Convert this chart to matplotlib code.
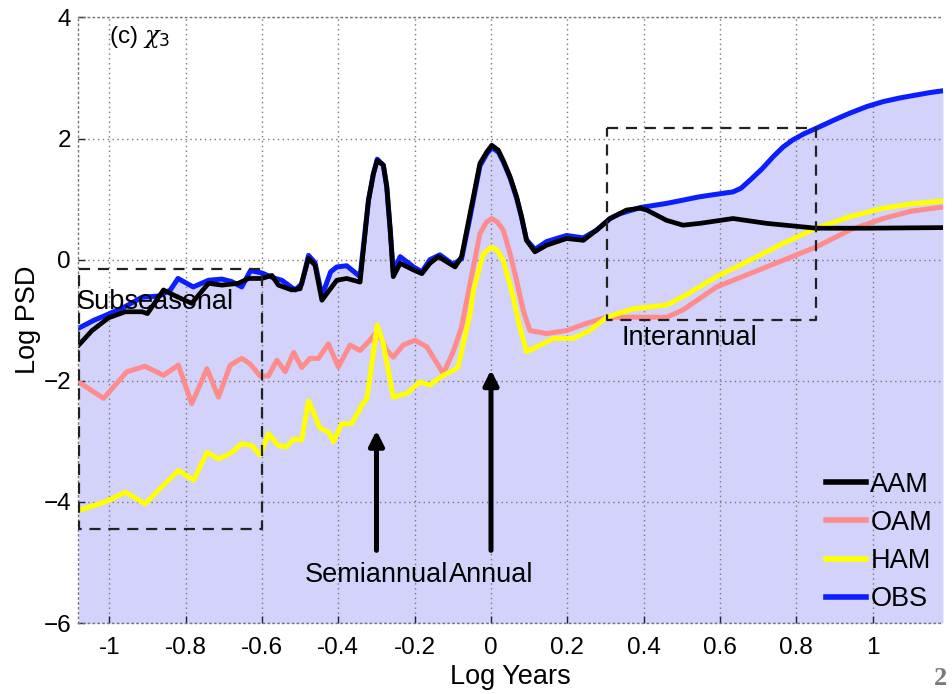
import numpy as np
import matplotlib
matplotlib.use('Agg')
import matplotlib.pyplot as plt
from matplotlib.lines import Line2D

plt.rcParams['font.family'] = ['Liberation Sans', 'DejaVu Sans']
plt.rcParams['mathtext.fontset'] = 'custom'
plt.rcParams['mathtext.it'] = 'DejaVu Serif:italic'

# OBS (blue, filled)
obs_x = [-1.08, -1.04, -1.01, -0.96, -0.914, -0.87, -0.84, -0.82, -0.78, -0.74, -0.705, -0.68,
         -0.653, -0.63, -0.60, -0.57, -0.548, -0.513, -0.496, -0.478, -0.461, -0.443, -0.42,
         -0.404, -0.378, -0.343, -0.321, -0.308, -0.298, -0.282, -0.273, -0.264, -0.256, -0.238,
         -0.203, -0.181, -0.16, -0.134, -0.099, -0.077, -0.055, -0.046, -0.029, -0.011, 0.002,
         0.019, 0.032, 0.05, 0.067, 0.08, 0.093, 0.115, 0.146, 0.198, 0.242, 0.277, 0.312, 0.338,
         0.39, 0.46, 0.5, 0.547, 0.59, 0.634, 0.655, 0.678, 0.71, 0.739, 0.765, 0.791, 0.82, 0.852,
         0.9, 0.94, 0.985, 1.027, 1.07, 1.114, 1.15, 1.184]
obs_y = [-1.13, -1.0, -0.92, -0.78, -0.62, -0.6, -0.5, -0.31, -0.45, -0.34, -0.32, -0.36,
         -0.45, -0.18, -0.22, -0.3, -0.34, -0.5, -0.4, 0.07, -0.05, -0.6, -0.2,
         -0.12, -0.1, -0.28, 0.98, 1.42, 1.66, 1.56, 1.2, 0.49, -0.2, 0.05,
         -0.12, -0.2, 0.0, 0.08, -0.08, 0.02, 0.7, 1.0, 1.55, 1.75, 1.85,
         1.78, 1.62, 1.35, 1.02, 0.7, 0.33, 0.17, 0.3, 0.4, 0.36, 0.49, 0.68, 0.76,
         0.86, 0.93, 0.98, 1.04, 1.08, 1.12, 1.18, 1.31, 1.5, 1.70, 1.86, 1.98, 2.08, 2.17,
         2.31, 2.42, 2.53, 2.61, 2.67, 2.72, 2.76, 2.79]

# AAM (black)
aam_x = [-1.08, -1.045, -1.002, -0.958, -0.914, -0.9, -0.858, -0.823, -0.784, -0.74, -0.705,
         -0.662, -0.635, -0.60, -0.574, -0.557, -0.522, -0.5, -0.478, -0.461, -0.443, -0.404,
         -0.378, -0.343, -0.321, -0.308, -0.298, -0.282, -0.273, -0.264, -0.256, -0.238, -0.203,
         -0.181, -0.16, -0.138, -0.094, -0.077, -0.055, -0.046, -0.029, -0.011, 0.002, 0.019,
         0.032, 0.05, 0.067, 0.08, 0.093, 0.115, 0.146, 0.198, 0.242, 0.277, 0.312, 0.355, 0.39,
         0.408, 0.46, 0.503, 0.547, 0.634, 0.722, 0.852, 0.983, 1.184]
aam_y = [-1.41, -1.17, -0.96, -0.86, -0.86, -0.89, -0.5, -0.61, -0.72, -0.39, -0.42,
         -0.39, -0.31, -0.31, -0.26, -0.42, -0.5, -0.48, 0.02, -0.09, -0.67, -0.34,
         -0.31, -0.37, 0.98, 1.42, 1.64, 1.56, 1.2, 0.49, -0.28, -0.06, -0.17,
         -0.23, -0.06, 0.05, -0.12, 0.05, 0.76, 1.04, 1.59, 1.78, 1.89, 1.81,
         1.64, 1.37, 1.04, 0.71, 0.32, 0.13, 0.24, 0.35, 0.32, 0.49, 0.68, 0.82, 0.85,
         0.82, 0.65, 0.57, 0.60, 0.68, 0.60, 0.52, 0.52, 0.53]

# OAM (pink)
oam_x = [-1.08, -1.015, -0.954, -0.906, -0.858, -0.819, -0.784, -0.744, -0.714, -0.683, -0.653,
         -0.631, -0.605, -0.583, -0.561, -0.539, -0.517, -0.496, -0.474, -0.452, -0.426, -0.4,
         -0.369, -0.343, -0.317, -0.298, -0.273, -0.256, -0.23, -0.199, -0.168, -0.125, -0.099,
         -0.077, -0.055, -0.029, -0.012, 0.002, 0.017, 0.032, 0.05, 0.067, 0.085, 0.102, 0.146,
         0.198, 0.251, 0.303, 0.373, 0.46, 0.503, 0.591, 0.678, 0.765, 0.852, 0.94, 1.027, 1.1,
         1.184]
oam_y = [-2.02, -2.29, -1.85, -1.76, -1.91, -1.74, -2.38, -1.80, -2.27, -1.74, -1.63,
         -1.72, -1.92, -1.92, -1.66, -1.85, -1.53, -1.78, -1.63, -1.63, -1.39, -1.77,
         -1.41, -1.5, -1.33, -1.17, -1.5, -1.61, -1.41, -1.33, -1.44, -1.88, -1.52,
         -1.11, -0.4, 0.43, 0.62, 0.68, 0.62, 0.49, 0.1, -0.34, -0.85, -1.17, -1.22,
         -1.17, -1.05, -0.95, -0.95, -0.95, -0.83, -0.45, -0.23, -0.01, 0.21, 0.49, 0.68, 0.8,
         0.87]

# HAM (yellow)
ham_x = [-1.08, -1.01, -0.958, -0.906, -0.862, -0.819, -0.779, -0.744, -0.714, -0.683, -0.653,
         -0.626, -0.605, -0.583, -0.557, -0.535, -0.517, -0.496, -0.478, -0.448, -0.425, -0.413,
         -0.391, -0.365, -0.338, -0.325, -0.318, -0.298, -0.282, -0.256, -0.221, -0.186, -0.16,
         -0.125, -0.099, -0.086, -0.073, -0.055, -0.046, -0.02, 0.002, 0.017, 0.032, 0.058,
         0.075, 0.093, 0.12, 0.163, 0.215, 0.259, 0.303, 0.373, 0.46, 0.503, 0.591, 0.678,
         0.765, 0.852, 0.94, 1.027, 1.1, 1.184]
ham_y = [-4.14, -4.0, -3.84, -4.03, -3.75, -3.48, -3.64, -3.18, -3.29, -3.2, -3.04,
         -3.07, -3.23, -2.87, -3.07, -3.09, -2.96, -2.98, -2.33, -2.78, -2.85, -3.01,
         -2.71, -2.71, -2.4, -2.29, -1.99, -1.08, -1.39, -2.27, -2.21, -2.02, -2.07,
         -1.91, -1.83, -1.77, -1.39, -0.9, -0.5, 0.1, 0.21, 0.15, -0.01, -0.61,
         -1.1, -1.52, -1.44, -1.30, -1.30, -1.17, -0.95, -0.81, -0.75, -0.61, -0.28, -0.01,
         0.27, 0.52, 0.71, 0.85, 0.92, 0.97]

xticks = [-1, -0.8, -0.6, -0.4, -0.2, 0, 0.2, 0.4, 0.6, 0.8, 1]
xticklabels = ['-1', '-0.8', '-0.6', '-0.4', '-0.2', '0', '0.2', '0.4', '0.6', '0.8', '1']
yticks = [-6, -4, -2, 0, 2, 4]

c_aam = 'black'
c_oam = '#ff8c8c'
c_ham = '#ffff00'
c_obs = '#0a1eff'
fs = 17.5      # tick labels
fs_txt = 19.5  # annotations, legend, axis labels

fig = plt.figure(figsize=(9.52, 6.94), dpi=100)
ax = fig.add_axes([0.0819, 0.1023, 0.9086, 0.8725])

ax.fill_between(obs_x, obs_y, -6, color='#d2d2fa', linewidth=0, zorder=1)
ax.plot(obs_x, obs_y, color=c_obs, lw=3.6, zorder=2)
ax.plot(aam_x, aam_y, color=c_aam, lw=3.4, zorder=2.2)
ax.plot(oam_x, oam_y, color=c_oam, lw=3.6, zorder=2.1)
ax.plot(ham_x, ham_y, color=c_ham, lw=3.6, zorder=2.15)

# dashed boxes
box_kw = dict(color='#222222', lw=1.6, ls=(0, (5, 3.5)), zorder=4)
ax.plot([-1.08, -0.6, -0.6, -1.08, -1.08], [-0.16, -0.16, -4.44, -4.44, -0.16], **box_kw)
ax.plot([0.305, 0.852, 0.852, 0.305, 0.305], [2.17, 2.17, -1.0, -1.0, 2.17], **box_kw)

# arrows
arr = dict(arrowstyle='-|>', lw=3.6, color='black', mutation_scale=22, shrinkA=0, shrinkB=0)
ax.annotate('', xy=(-0.3, -2.82), xytext=(-0.3, -4.8), arrowprops=arr, zorder=5)
ax.annotate('', xy=(0.0, -1.82), xytext=(0.0, -4.8), arrowprops=arr, zorder=5)

ax.text(-0.3, -5.2, 'Semiannual', ha='center', va='center', fontsize=fs_txt, zorder=6)
ax.text(0.0, -5.2, 'Annual', ha='center', va='center', fontsize=fs_txt, zorder=6)
ax.text(-1.085, -0.7, 'Subseasonal', ha='left', va='center', fontsize=fs_txt, zorder=6)
ax.text(0.521, -1.29, 'Interannual', ha='center', va='center', fontsize=fs_txt, zorder=6)
ax.text(-1.0, 3.68, r'(c) $\chi_3$', ha='left', va='center', fontsize=fs, zorder=6)

ax.set_xlim(-1.082, 1.184)
ax.set_ylim(-6, 4)
ax.set_xticks(xticks)
ax.set_xticklabels(xticklabels)
ax.set_yticks(yticks)
ax.tick_params(direction='in', length=5, width=1, color='#202040', labelsize=fs,
               top=False, right=False)
ax.tick_params(axis='x', pad=10)
ax.tick_params(axis='y', pad=5)
ax.grid(True, color='#777777', ls=(0, (1, 2.5)), lw=1)
for side in ['left', 'bottom', 'top']:
    ax.spines[side].set_linestyle((0, (1, 2.5)))
    ax.spines[side].set_color('#777777')
    ax.spines[side].set_linewidth(1)
ax.spines['right'].set_visible(False)

ax.set_xlabel('Log Years', fontsize=fs_txt, labelpad=4)
ax.set_ylabel('Log PSD', fontsize=fs_txt, labelpad=2)

handles = [Line2D([], [], color=c, lw=4) for c in [c_aam, c_oam, c_ham, c_obs]]
ax.legend(handles, ['AAM', 'OAM', 'HAM', 'OBS'], loc='lower right', frameon=False,
          fontsize=fs_txt, handlelength=1.5, handletextpad=0.15, labelspacing=0.45,
          bbox_to_anchor=(1.0, 0.0), borderaxespad=0.0)

fig.text(0.988, 0.022, '2', ha='center', va='center', fontsize=19, color='#7a7a7a',
         family='Liberation Serif', weight='bold')

fig.savefig('out.png', dpi=100)
